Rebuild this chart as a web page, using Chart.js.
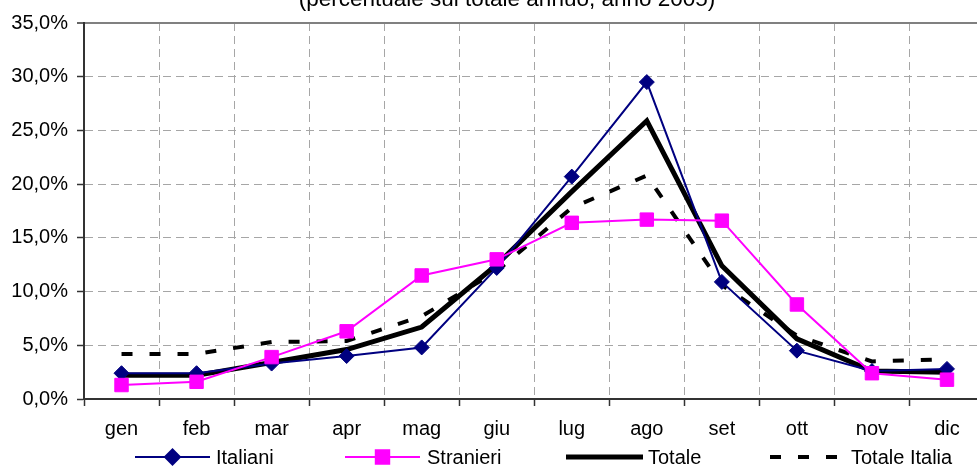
<!DOCTYPE html>
<html>
<head>
<meta charset="utf-8">
<script src="https://cdn.jsdelivr.net/npm/chart.js@4/dist/chart.umd.min.js"></script>
<style>
	html, body { margin: 0; padding: 0; background: #fff; overflow: hidden; }
	#wrap { width: 995px; height: 468px; }
</style>
</head>
<body>
<div id="wrap"><canvas id="chart"></canvas></div>
<script>
// mesi e quote mensili (% sul totale annuo)
var mesi = ["gen", "feb", "mar", "apr", "mag", "giu", "lug", "ago", "set", "ott", "nov", "dic"];
var italiani = [2.4, 2.4, 3.3, 4.0, 4.8, 12.2, 20.7, 29.5, 10.9, 4.5, 2.6, 2.8];
var stranieri = [1.3, 1.6, 3.9, 6.3, 11.5, 13.0, 16.4, 16.7, 16.6, 8.8, 2.4, 1.8];
var totale = [2.2, 2.2, 3.4, 4.6, 6.7, 12.5, 19.3, 25.9, 12.4, 5.6, 2.6, 2.5];
var totaleItalia = [4.2, 4.2, 5.3, 5.4, 7.7, 11.9, 17.8, 20.8, 10.6, 5.9, 3.5, 3.7];
var yTicks = [0, 5, 10, 15, 20, 25, 30, 35];

var titolo = "(percentuale sul totale annuo, anno 2005)";
var FONT = "'Liberation Sans', Arial, sans-serif";

// titolo (tagliato in alto come nell'originale)
var titlePlugin = {
	id: "titolo",
	afterDraw: function(chart){
		var ctx = chart.ctx;
		ctx.save();
		ctx.font = "22.5px " + FONT;
		ctx.fillStyle = "#000";
		ctx.textAlign = "center";
		ctx.textBaseline = "alphabetic";
		ctx.fillText(titolo, 507, 6);
		ctx.restore();
	}
};

// legenda in stile Excel: linea + marcatore + testo
var legendPos = [
	{x1: 135, x2: 210, text: 216},
	{x1: 345, x2: 420, text: 427},
	{x1: 566, x2: 643, text: 648},
	{x1: 770, x2: 840, text: 851}
];
var legendPlugin = {
	id: "legendaExcel",
	afterDraw: function(chart){
		var ctx = chart.ctx;
		var y = 457;
		chart.data.datasets.forEach(function(ds, i){
			var p = legendPos[i];
			ctx.save();
			ctx.strokeStyle = ds.borderColor;
			ctx.lineWidth = ds.borderWidth;
			ctx.setLineDash(ds.borderDash || []);
			ctx.beginPath();
			ctx.moveTo(p.x1, y);
			ctx.lineTo(p.x2, y);
			ctx.stroke();
			ctx.setLineDash([]);
			if(ds.pointRadius > 0){
				var cx = (p.x1 + p.x2) / 2;
				Chart.helpers.drawPoint(ctx, {
					pointStyle: ds.pointStyle,
					radius: ds.pointRadius,
					borderWidth: 1
				}, cx, y);
				ctx.fillStyle = ds.pointBackgroundColor;
				ctx.fill();
			}
			ctx.font = "20px " + FONT;
			ctx.fillStyle = "#000";
			ctx.textAlign = "left";
			ctx.textBaseline = "middle";
			ctx.fillText(ds.label, p.text, y + 1);
			ctx.restore();
		});
	}
};

var ctx = document.getElementById("chart").getContext("2d");
var chart = new Chart(ctx, {
	type: "line",
	data: {
		labels: mesi,
		datasets: [
			{
				label: "Italiani", data: italiani, order: 1,
				borderColor: "#000080", borderWidth: 2,
				pointStyle: "rectRot", pointRadius: 7.5,
				pointBackgroundColor: "#000080", pointBorderColor: "#000080", pointBorderWidth: 1
			},
			{
				label: "Stranieri", data: stranieri, order: 0,
				borderColor: "#FF00FF", borderWidth: 2,
				pointStyle: "rect", pointRadius: 9.5,
				pointBackgroundColor: "#FF00FF", pointBorderColor: "#FF00FF", pointBorderWidth: 1
			},
			{
				label: "Totale", data: totale, order: 2,
				borderColor: "#000000", borderWidth: 5, pointRadius: 0
			},
			{
				label: "Totale Italia", data: totaleItalia, order: 3,
				borderColor: "#000000", borderWidth: 4, borderDash: [11, 17], pointRadius: 0
			}
		]
	},
	options: {
		responsive: true,
		maintainAspectRatio: false,
		animation: false,
		events: [],
		layout: { padding: { left: 0, right: 6, top: 23, bottom: 0 } },
		plugins: {
			legend: { display: false },
			title: { display: false },
			tooltip: { enabled: false }
		},
		elements: { line: { tension: 0 } },
		scales: {
			x: {
				offset: true,
				grid: {
					offset: true,
					color: "#A6A6A6",
					lineWidth: 1,
					tickLength: 7,
					tickColor: "#333",
					tickWidth: 1.5
				},
				border: { display: true, color: "#333", width: 2, dash: [8, 5] },
				ticks: {
					color: "#000",
					font: { family: FONT, size: 20 },
					padding: 11,
					maxRotation: 0,
					autoSkip: false
				},
				afterFit: function(scale){ scale.height = 69; }
			},
			y: {
				min: 0,
				max: 35,
				afterBuildTicks: function(scale){
					scale.ticks = yTicks.map(function(v){ return {value: v}; });
				},
				grid: {
					color: function(c){ return c.tick && c.tick.value === 35 ? "#808080" : "#A6A6A6"; },
					lineWidth: function(c){ return c.tick && c.tick.value === 35 ? 2 : 1; },
					tickLength: 7,
					tickColor: "#333",
					tickWidth: 1.5
				},
				border: {
					display: true, color: "#333", width: 2,
					dash: function(c){ return c.tick && c.tick.value === 35 ? [] : [8, 5]; }
				},
				ticks: {
					color: "#000",
					font: { family: FONT, size: 20 },
					padding: 9,
					callback: function(v){ return v.toFixed(1).replace(".", ",") + "%"; }
				},
				afterFit: function(scale){ scale.width = 84; }
			}
		}
	},
	plugins: [titlePlugin, legendPlugin]
});
</script>
</body>
</html>
